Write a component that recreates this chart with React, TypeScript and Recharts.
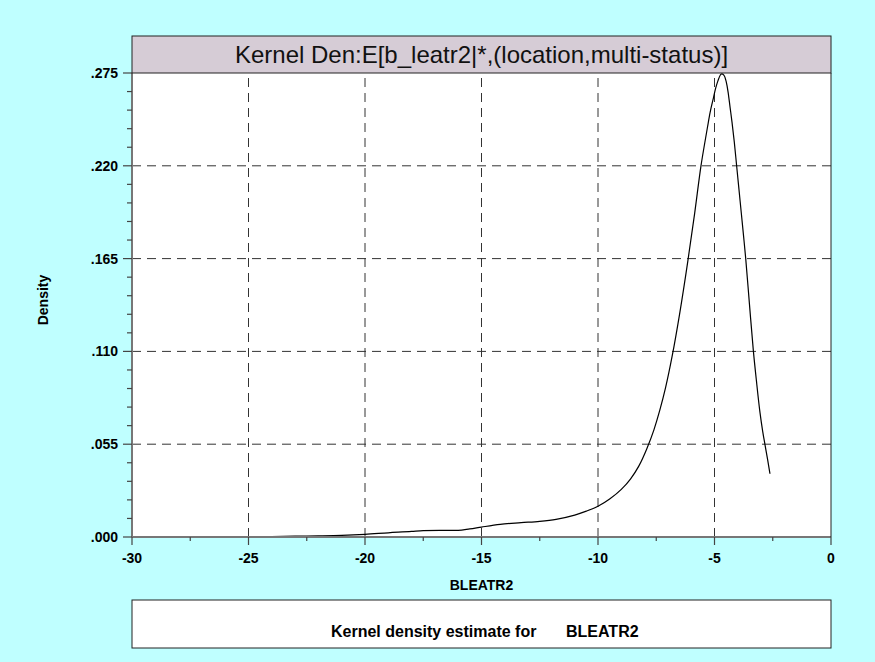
import React from "react"
import { LineChart, Line, XAxis, YAxis, ReferenceLine } from "recharts"

// kernel density curve
const xs = [
  -25, -24, -23, -22, -21, -20, -19, -18, -17.5, -16.8, -16, -15.5, -15, -14.2, -13.3, -12.5, -11.8, -11,
  -10.5, -10, -9.5, -9.0, -8.6, -8.25, -7.9, -7.6, -7.35, -7.1, -6.82, -6.5, -6.14, -5.85, -5.58,
  -5.45, -5.3, -5.19, -5.05, -4.95, -4.85, -4.75, -4.69, -4.6, -4.5, -4.42, -4.33, -4.25, -4.15, -4.05,
  -3.95, -3.85, -3.75, -3.66, -3.5, -3.33, -3.2, -3.05, -2.93, -2.83, -2.72, -2.62,
]
const ys = [
  0, 0.0002, 0.0005, 0.0007, 0.001, 0.0016, 0.0025, 0.0033, 0.0038, 0.0039, 0.0039, 0.0048, 0.0059, 0.0075,
  0.0085, 0.0093, 0.0105, 0.013, 0.0153, 0.0182, 0.0225, 0.0282, 0.0345, 0.042, 0.0525, 0.0635, 0.075,
  0.0885, 0.107, 0.132, 0.164, 0.192, 0.22, 0.231, 0.243, 0.2515, 0.26, 0.266, 0.2705, 0.2738, 0.2745,
  0.2738, 0.27, 0.264, 0.2545, 0.246, 0.234, 0.22, 0.206, 0.192, 0.178, 0.165, 0.138, 0.11, 0.0925, 0.074,
  0.0625, 0.0545, 0.0458, 0.0375,
]

const xMajor = [-30, -25, -20, -15, -10, -5, 0]
const xMinor = [-27.5, -22.5, -17.5, -12.5, -7.5, -2.5]
const xGrid = [-25, -20, -15, -10, -5]

const yMajor = [0, 0.055, 0.11, 0.165, 0.22, 0.275]
const yMinor = [
  0.011, 0.022, 0.033, 0.044, 0.066, 0.077, 0.088, 0.099, 0.121, 0.132, 0.143, 0.154, 0.176, 0.187, 0.198,
  0.209, 0.231, 0.242, 0.253, 0.264,
]
const yGrid = [0.055, 0.11, 0.165, 0.22]

const title = "Kernel Den:E[b_leatr2|*,(location,multi-status)]"
const xLabel = "BLEATR2"
const yLabel = "Density"
const legendText = "Kernel density estimate for"

const data = xs.map((x, i) => ({ x, y: ys[i] }))

const FONT = "Arial, 'Liberation Sans', Helvetica, sans-serif"
const BG = "#BFFFFF"

const isMajor = (list: number[], v: number) => list.some((m) => Math.abs(m - v) < 1e-9)

const XTick = ({ x, y, payload }: any) => {
  const major = isMajor(xMajor, payload.value)
  return (
    <g>
      <line x1={x} x2={x} y1={y} y2={y + (major ? 8 : 4)} stroke="#444" strokeWidth={1.2} />
      {major && (
        <text x={x} y={y + 26} textAnchor="middle" fontFamily={FONT} fontSize={14} fontWeight="bold" fill="#000">
          {payload.value}
        </text>
      )}
    </g>
  )
}

const YTick = ({ x, y, payload }: any) => {
  const major = isMajor(yMajor, payload.value)
  return (
    <g>
      <line x1={x - (major ? 9 : 5)} x2={x} y1={y} y2={y} stroke="#444" strokeWidth={1.2} />
      {major && (
        <text x={x - 14} y={y + 5} textAnchor="end" fontFamily={FONT} fontSize={14} fontWeight="bold" fill="#000">
          {payload.value.toFixed(3).replace(/^0/, "")}
        </text>
      )}
    </g>
  )
}

export default function App() {
  // plot box in page pixels
  const L = 132
  const R = 831
  const T = 73
  const B = 537
  const yAxisW = 60
  const xAxisH = 40

  return (
    <div style={{ position: "absolute", left: 0, top: 0, width: 875, height: 662, background: BG, overflow: "hidden" }}>
      {/* white plot background */}
      <div style={{ position: "absolute", left: L, top: T, width: R - L, height: B - T, background: "#fff" }} />
      <div style={{ position: "absolute", left: 0, top: 0 }}>
        <LineChart
          width={875}
          height={662}
          data={data}
          margin={{ top: T, right: 875 - R, bottom: 662 - B - xAxisH, left: L - yAxisW }}
        >
          <XAxis
            type="number"
            dataKey="x"
            domain={[-30, 0]}
            ticks={[...xMajor, ...xMinor].sort((a, b) => a - b)}
            interval={0}
            height={xAxisH}
            tickSize={0}
            tickMargin={0}
            tickLine={false}
            axisLine={{ stroke: "#777", strokeWidth: 2 }}
            tick={<XTick />}
            allowDataOverflow
          />
          <YAxis
            type="number"
            domain={[0, 0.275]}
            ticks={[...yMajor, ...yMinor].sort((a, b) => a - b)}
            interval={0}
            width={yAxisW}
            tickSize={0}
            tickMargin={0}
            tickLine={false}
            axisLine={{ stroke: "#777", strokeWidth: 2 }}
            tick={<YTick />}
            allowDataOverflow
          />
          {xGrid.map((v) => (
            <ReferenceLine key={"vx" + v} x={v} stroke="#333" strokeDasharray="9 6" />
          ))}
          {yGrid.map((v) => (
            <ReferenceLine key={"hy" + v} y={v} stroke="#333" strokeDasharray="9 6" />
          ))}
          <Line
            type="monotone"
            dataKey="y"
            stroke="#000"
            strokeWidth={1.2}
            dot={false}
            isAnimationActive={false}
          />
        </LineChart>
      </div>

      <svg width={875} height={662} style={{ position: "absolute", left: 0, top: 0, pointerEvents: "none" }}>
        {/* title band */}
        <rect x={L} y={36} width={R - L} height={T - 36} fill="#D6CCD6" stroke="#222" strokeWidth={1} />
        <text x={(L + R) / 2} y={63} textAnchor="middle" fontFamily={FONT} fontSize={24} fill="#111">
          {title}
        </text>
        {/* right edge of the plot box */}
        <line x1={R} x2={R} y1={T} y2={B} stroke="#222" strokeWidth={1} />
        <text
          x={48}
          y={300}
          transform="rotate(-90 48 300)"
          textAnchor="middle"
          fontFamily={FONT}
          fontSize={14}
          fontWeight="bold"
          fill="#000"
        >
          {yLabel}
        </text>
        <text x={(L + R) / 2} y={590} textAnchor="middle" fontFamily={FONT} fontSize={14} fontWeight="bold" fill="#000">
          {xLabel}
        </text>
        {/* legend box */}
        <rect x={L} y={600} width={R - L} height={48} fill="#fff" stroke="#222" strokeWidth={1} />
        <text x={331} y={637} textAnchor="start" fontFamily={FONT} fontSize={16} fontWeight="bold" fill="#000">
          {legendText}
        </text>
        <text x={566} y={637} textAnchor="start" fontFamily={FONT} fontSize={16} fontWeight="bold" fill="#000">
          {xLabel}
        </text>
      </svg>
    </div>
  )
}
